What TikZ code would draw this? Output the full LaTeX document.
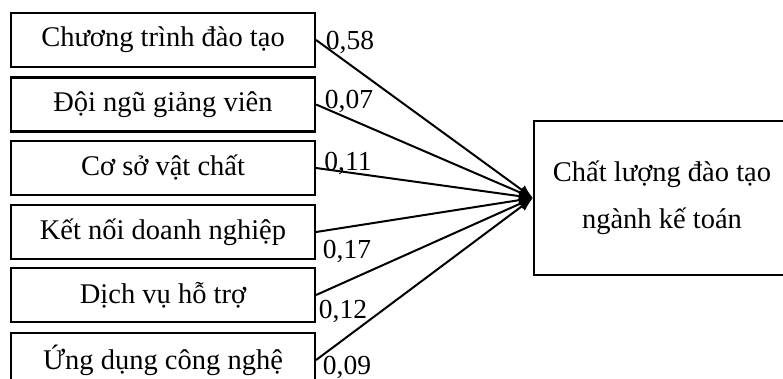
\documentclass[tikz,border=0pt]{standalone}
\usepackage{fontspec}
\setmainfont{Liberation Serif}
\usetikzlibrary{arrows.meta}

\begin{document}
\begin{tikzpicture}
  [x=1pt,y=-1pt,
   box/.style={draw,line width=2.2pt,minimum width=304pt,minimum height=54pt,
               inner sep=0pt,font=\fontsize{28.5pt}{47pt}\selectfont},
   arr/.style={-{Latex[length=14pt,width=11pt]},line width=2pt},
   coef/.style={inner sep=0pt,font=\fontsize{27.5pt}{32pt}\selectfont}
  ]

  \useasboundingbox (0,0) rectangle (783,379);
  \clip (0,0) rectangle (783,379);

  % factors
  \foreach \n/\y/\t in {f1/40/Chương trình đào tạo,
                        f2/104.5/Đội ngũ giảng viên,
                        f3/168/Cơ sở vật chất,
                        f4/232/Kết nối doanh nghiệp,
                        f5/295/Dịch vụ hỗ trợ,
                        f6/360/Ứng dụng công nghệ}
    \node[box] (\n) at (163,\y) {\t};

  % outcome
  \node[box,minimum width=256pt,minimum height=154pt,align=center] (cl) at (662,198)
    {Chất lượng đào tạo\\ngành kế toán};

  % paths
  \foreach \n in {f1,f2,f3,f4,f5,f6}
    \draw[arr] (\n.east) -- (cl.west);

  % coefficients
  \node[coef] (c1) at (350,42)  {0,58};
  \node[coef] (c2) at (349,101) {0,07};
  \node[coef] (c3) at (348,163) {0,11};
  \node[coef] (c4) at (347,251) {0,17};
  \node[coef] (c5) at (343,311) {0,12};
  \node[coef] (c6) at (347,367) {0,09};
\end{tikzpicture}
\end{document}
